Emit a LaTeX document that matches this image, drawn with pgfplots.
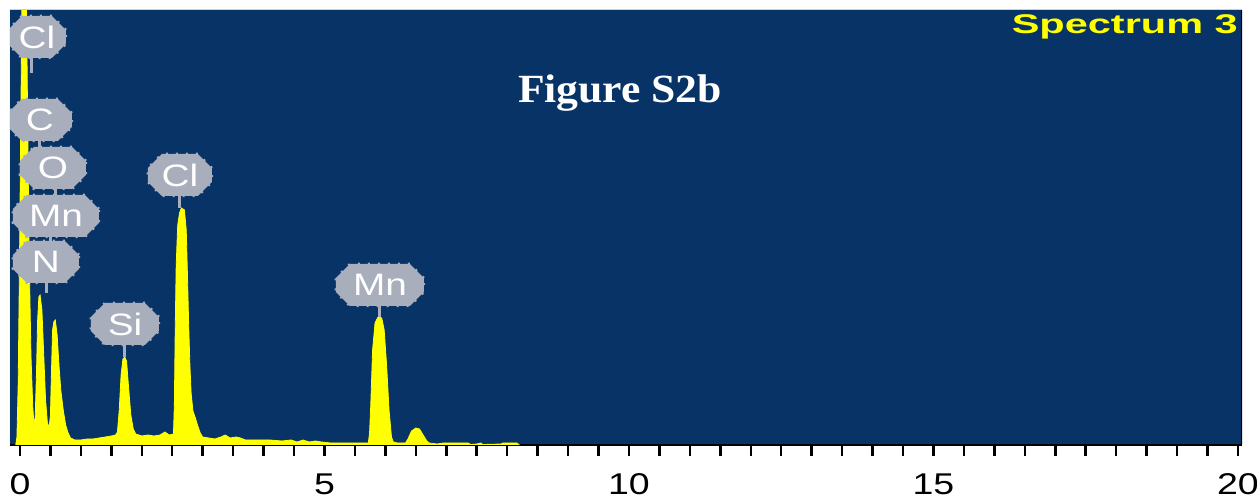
\documentclass[border=0pt]{standalone}
\usepackage{fontspec}
\setmainfont{Liberation Sans}
\newfontfamily\serifb{Liberation Serif}
\usepackage{graphicx}
\usepackage{pgfplots}
\pgfplotsset{compat=1.18}
\usetikzlibrary{shapes.misc}
\definecolor{navy}{RGB}{7,51,102}
\definecolor{specyellow}{RGB}{255,255,0}
\definecolor{badge}{RGB}{168,174,188}
\tikzset{bdg/.style={chamfered rectangle, chamfered rectangle xsep=7pt, chamfered rectangle ysep=7pt,
  fill=badge, draw=badge, line width=2.5pt, dash pattern=on 2pt off 8pt, minimum height=42pt, inner sep=0pt,
  text=white, font=\fontsize{31}{31}\selectfont},
  stem/.style={badge, line width=3pt}}
\newcommand{\bt}[1]{\scalebox{1.25}[1]{#1}}
\begin{document}
\begin{tikzpicture}[x=1pt,y=1pt]
\useasboundingbox (0,0) rectangle (1257,502);
\fill[white] (0,0) rectangle (1257,502);
\begin{axis}[
  at={(10pt,57pt)}, anchor=south west,
  scale only axis, width=1232pt, height=435pt,
  xmin=-0.164, xmax=20.066, ymin=0, ymax=435,
  axis background/.style={fill=navy},
  axis x line*=bottom, axis y line=none,
  x axis line style={black, line width=2.5pt},
  xtick={0,5,10,15,20}, minor x tick num=9,
  tick align=outside,
  major tick length=11pt, minor tick length=11pt,
  tick style={black, line width=2.5pt},
  xticklabel style={font=\fontsize{30}{30}\selectfont, text=black, xscale=1.25, yshift=-14pt},
  /pgf/number format/assume math mode=true,
]
\addplot[draw=specyellow, line width=0.8pt, fill=specyellow] coordinates {
(-0.07,0) (-0.05,8) (-0.03,60) (-0.01,170) (0.01,300) (0.03,430) (0.05,505) (0.07,520) (0.09,500) (0.11,420) (0.13,300) (0.15,190) (0.18,90) (0.21,38) (0.23,20)
(0.25,28) (0.27,70) (0.29,125) (0.31,148) (0.33,150) (0.36,135) (0.39,90) (0.42,45) (0.45,22) (0.48,18)
(0.50,30) (0.52,80) (0.535,115) (0.555,123) (0.58,125) (0.61,110) (0.64,80) (0.67,55) (0.71,35) (0.75,20) (0.79,12) (0.83,7)
(0.9,5) (1.0,5) (1.1,6) (1.2,6) (1.3,7) (1.4,8) (1.5,9) (1.57,10)
(1.60,13) (1.63,35) (1.66,70) (1.69,86) (1.72,88) (1.75,84) (1.78,60) (1.82,30) (1.86,16) (1.90,11)
(2.0,9) (2.1,10) (2.2,9) (2.3,10) (2.38,13) (2.45,10) (2.52,11)
(2.535,40) (2.55,120) (2.565,180) (2.59,220) (2.62,232) (2.65,237) (2.70,235) (2.73,215) (2.75,170) (2.77,120) (2.79,80) (2.81,52) (2.84,34) (2.88,27) (2.92,19) (2.96,12) (3.0,8)
(3.1,7) (3.2,6) (3.3,8) (3.37,10) (3.45,7) (3.55,8) (3.62,7) (3.7,5) (3.9,5) (4.1,5) (4.3,4) (4.45,5) (4.55,3) (4.65,5) (4.75,3) (4.85,4) (4.95,3) (5.1,2) (5.4,2) (5.72,2)
(5.74,12) (5.76,40) (5.79,95) (5.83,122) (5.88,128) (5.94,127) (5.98,115) (6.02,80) (6.06,35) (6.10,8) (6.13,3) (6.2,2)
(6.33,2) (6.37,6) (6.43,14) (6.5,17) (6.56,16) (6.62,10) (6.68,4) (6.72,2) (6.85,1) (6.95,2) (7.36,2) (7.4,0.5) (7.5,1) (7.57,2) (7.6,0.5) (7.9,1) (7.93,2) (8.16,2) (8.2,0)
} \closedcycle;
\draw[black, line width=2pt] (rel axis cs:1,0) -- (rel axis cs:1,1);
\draw[badge!60!white, line width=1pt] (rel axis cs:0,0) -- (rel axis cs:0,1) -- (rel axis cs:1,1);
% stems
\draw[stem] (axis cs:0.197,408) -- (axis cs:0.197,372);
\draw[stem] (axis cs:0.328,325) -- (axis cs:0.328,277);
\draw[stem] (axis cs:0.575,277) -- (axis cs:0.575,229);
\draw[stem] (axis cs:0.493,229) -- (axis cs:0.493,183);
\draw[stem] (axis cs:0.443,183) -- (axis cs:0.443,152);
\draw[stem] (axis cs:2.627,270) -- (axis cs:2.627,237);
\draw[stem] (axis cs:1.724,121) -- (axis cs:1.724,88);
\draw[stem] (axis cs:5.911,160) -- (axis cs:5.911,128);
% badges
\node[bdg, minimum width=58pt] at (axis cs:0.279,408) {\bt{Cl}};
\node[bdg, minimum width=64pt] at (axis cs:0.328,325) {\bt{C}};
\node[bdg, minimum width=66pt] at (axis cs:0.542,277) {\bt{O}};
\node[bdg, minimum width=86pt] at (axis cs:0.591,229) {\bt{Mn}};
\node[bdg, minimum width=66pt] at (axis cs:0.427,183) {\bt{N}};
\node[bdg, minimum width=64pt] at (axis cs:2.627,270) {\bt{Cl}};
\node[bdg, minimum width=68pt] at (axis cs:1.724,121) {\bt{Si}};
\node[bdg, minimum width=88pt] at (axis cs:5.911,160) {\bt{Mn}};
\end{axis}
\node[anchor=base east, inner sep=0pt, text=specyellow] at (1238,468)
  {\resizebox{226pt}{\height}{\fontsize{27}{27}\selectfont\bfseries Spectrum 3}};
\node[anchor=base, inner sep=0pt, text=white] at (620,399)
  {\resizebox{204pt}{\height}{\serifb\bfseries\fontsize{40}{40}\selectfont Figure S2b}};
\end{tikzpicture}
\end{document}
